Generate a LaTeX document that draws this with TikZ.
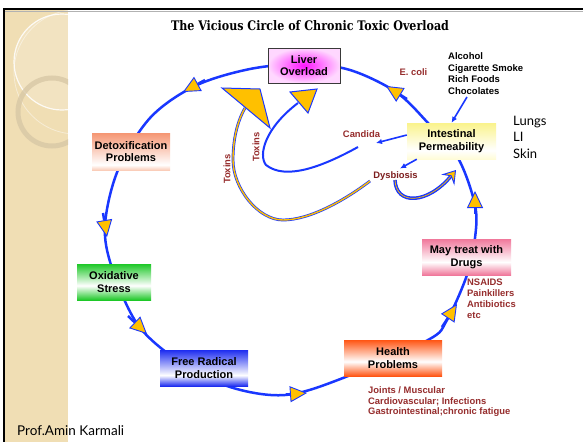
\documentclass[tikz,border=0pt]{standalone}
\usepackage{graphicx}
\usepackage{fontspec}
\setmainfont{Liberation Sans}
\newfontfamily\titlefont{DejaVu Serif}
\newfontfamily\gillfont{Lato}
\usetikzlibrary{arrows.meta}
\definecolor{lineblue}{RGB}{25,55,255}
\definecolor{gold}{RGB}{255,192,0}
\definecolor{lblred}{RGB}{150,45,45}
\definecolor{dysred}{RGB}{125,30,30}
\definecolor{stripbg}{RGB}{240,222,180}
\definecolor{ringc}{RGB}{216,200,166}
\definecolor{dxT}{RGB}{245,150,115}
\definecolor{dxB}{RGB}{250,205,185}
\definecolor{grC}{RGB}{30,200,40}
\definecolor{blC}{RGB}{30,45,240}
\definecolor{hpC}{RGB}{255,85,20}
\definecolor{mtC}{RGB}{240,120,155}
\definecolor{ipT}{RGB}{250,243,140}
\definecolor{ipB}{RGB}{255,252,215}
\definecolor{lvC}{RGB}{255,20,255}
\definecolor{lvO}{RGB}{255,215,255}
\pgfdeclareverticalshading{detoxsh}{100bp}{color(0bp)=(dxB); color(25bp)=(dxB); color(32bp)=(white); color(75bp)=(dxT); color(100bp)=(dxT)}
\pgfdeclareverticalshading{oxsh}{100bp}{color(0bp)=(grC); color(25bp)=(grC); color(45bp)=(white); color(75bp)=(grC); color(100bp)=(grC)}
\pgfdeclareverticalshading{frsh}{100bp}{color(0bp)=(blC); color(25bp)=(blC); color(40bp)=(white); color(75bp)=(blC); color(100bp)=(blC)}
\pgfdeclareverticalshading{hpsh}{100bp}{color(0bp)=(hpC); color(25bp)=(hpC); color(45bp)=(white); color(75bp)=(hpC); color(100bp)=(hpC)}
\pgfdeclareverticalshading{mtsh}{100bp}{color(0bp)=(mtC); color(25bp)=(mtC); color(43bp)=(white); color(75bp)=(mtC); color(100bp)=(mtC)}
\pgfdeclareverticalshading{ipsh}{100bp}{color(0bp)=(ipB); color(25bp)=(ipB); color(37bp)=(white); color(75bp)=(ipT); color(100bp)=(ipT)}
\tikzset{
  stepbox/.style={shade, inner sep=0pt, align=center, text=black,
    minimum height=36pt, font=\fontsize{11}{12.5}\selectfont\bfseries},
  lbl/.style={inner sep=0pt, text=lblred, font=\fontsize{9.4}{11}\selectfont\bfseries},
  blk/.style={inner sep=0pt, text=black, font=\fontsize{9.5}{11.6}\selectfont\bfseries},
  gill/.style={inner sep=0pt, text=black, font=\gillfont\fontsize{13}{16.5}\selectfont},
  loop/.style={draw=lineblue, line width=2.5pt},
  circarrow/.style={draw=lineblue, line width=2.5pt,
    -{Triangle[length=17pt,width=16pt,fill=gold,line width=0.9pt]}},
  thinarr/.style={draw=lineblue, line width=1.6pt, -{Latex[length=6pt,width=5.5pt]}},
  single/.style={draw=lineblue, line width=2pt},
  dbl/.style={draw=lineblue, line width=0.7pt, double=gold, double distance=1.4pt},
  headstyle/.style={draw=lineblue, fill=gold, line width=1pt, line join=miter},
  curlstyle/.style={draw=lineblue, line width=1.4pt, double=gold, double distance=0.7pt,
    -{Stealth[length=13pt,width=17pt,inset=5pt,fill=gold,line width=0.9pt]}}
}
\begin{document}
\begin{tikzpicture}[x=1pt,y=-1pt]
\useasboundingbox (0,0) rectangle (583,442);
\fill[white] (0,0) rectangle (583,442);
% left decorative strip
\fill[stripbg] (5,10) rectangle (68,442);
\begin{scope}
  \clip (5,10) rectangle (68,442);
  \fill[white, opacity=0.18] (62,62) circle[radius=48pt];
  \draw[white, opacity=0.85, line width=1.2pt] (62,62) circle[radius=48pt];
  \draw[white, opacity=0.45, line width=0.8pt] (76,72) circle[radius=62pt];
  \draw[ringc, opacity=0.8, line width=5pt] (52,112) circle[radius=34pt];
\end{scope}
% frame
\draw[black, line width=2.2pt] (3,9.2) -- (583,9.2);
\draw[gray!60, line width=0.8pt] (5,11.2) -- (583,11.2);
\draw[black, line width=2pt] (4.3,8.2) -- (4.3,442);
% title
\node[anchor=base, inner sep=0pt] (title) at (310,30)
  {\resizebox{278pt}{10pt}{\titlefont\bfseries The Vicious Circle of Chronic Toxic Overload}};
% main loop
\draw[loop] plot[smooth cycle, tension=0.55] coordinates {
  (304,64) (250,69) (195,86) (150,118) (118,170) (105,225) (112,268)
  (138,325) (180,362) (230,387) (285,395) (343,378) (428,340) (447,320)
  (467,275) (475,238) (475,205) (458,158) (428,123) (396,92) (350,70)};
% arrowheads on loop
\coordinate (a1s) at (205,80);  \coordinate (a1t) at (183,92);
\coordinate (a2s) at (103,213); \coordinate (a2t) at (107,237);
\coordinate (a3s) at (128,316); \coordinate (a3t) at (147,334);
\coordinate (a4s) at (286,394.5); \coordinate (a4t) at (307,393);
\coordinate (a5s) at (442,327); \coordinate (a5t) at (457,304);
\coordinate (a6s) at (475,214); \coordinate (a6t) at (475,191);
\coordinate (a7s) at (407,99);  \coordinate (a7t) at (386,86);
\foreach \i in {1,...,7} { \draw[circarrow] (a\i s) -- (a\i t); }
% boxes
\node[stepbox, minimum width=72pt, minimum height=35pt, inner color=lvC, outer color=lvO,
      draw=gray!45!black, line width=0.9pt] (liver) at (304,65.5) {Liver\\Overload};
\node[stepbox, minimum width=78pt, minimum height=37pt, shading=detoxsh] (detox) at (131,151.5) {Detoxification\\Problems};
\node[stepbox, minimum width=74pt, shading=oxsh] (oxid) at (114,282) {Oxidative\\Stress};
\node[stepbox, minimum width=88pt, shading=frsh] (free) at (204,368) {Free Radical\\Production};
\node[stepbox, minimum width=98pt, shading=hpsh] (health) at (393,358) {Health\\Problems};
\node[stepbox, minimum width=89pt, shading=mtsh] (drugs) at (466.5,257) {May treat with\\Drugs};
\node[stepbox, minimum width=89pt, shading=ipsh] (intes) at (451.5,141) {Intestinal\\Permeability};
% labels
\node[lbl, anchor=base] (ecoli) at (413.5,75) {E. coli};
\node[blk, anchor=north west, align=left] (foods) at (448,52.5) {Alcohol\\Cigarette Smoke\\Rich Foods\\Chocolates};
\node[gill, anchor=north west, align=left] (organs) at (513,115.7) {Lungs\\LI\\Skin};
\node[lbl, anchor=base] (candida) at (361.5,137) {Candida};
\node[lbl, anchor=base, text=dysred] (dysb) at (395.5,178) {Dysbiosis};
\node[lbl, rotate=90] (tox1) at (256,147) {Toxins};
\node[lbl, rotate=90] (tox2) at (227,169) {Toxins};
\node[lbl, anchor=north west, align=left] (drugl) at (467,278.3) {NSAIDS\\Painkillers\\Antibiotics\\etc};
\node[lbl, anchor=north west, align=left, font=\fontsize{9.4}{10.7}\selectfont\bfseries] (healthl) at (368,386.3)
  {Joints / Muscular\\Cardiovascular; Infections\\Gastrointestinal;chronic fatigue};
\node[inner sep=0pt, anchor=base west, font=\gillfont\fontsize{13.5}{15}\selectfont] (author) at (17,435) {Prof.Amin Karmali};
% connectors
\coordinate (candtip) at (376,143);
\coordinate (dystip) at (400,168.5);
\coordinate (foodstart) at (467,97);
\draw[thinarr] ([yshift=6pt]intes.west) -- (candtip);
\draw[thinarr] ([xshift=10pt]intes.south west) -- (dystip);
\draw[thinarr] (foodstart) -- (intes.north);
% toxins paths
\coordinate (tox2s) at (370,181);
\coordinate (tox2e) at (245,108);
\draw[dbl] (tox2s) .. controls (345,200) and (310,220) .. (283,220)
  .. controls (258,220) and (233,188) .. (233,160)
  .. controls (233,140) and (237,122) .. (tox2e);
\draw[headstyle] (222,88) -- (260,89) -- (270,128) -- cycle;
\coordinate (tox1s) at (358,147);
\coordinate (tox1e) at (298,103);
\draw[single] (tox1s) .. controls (320,168) and (285,180) .. (266,165)
  .. controls (258,155) and (265,128) .. (tox1e);
\draw[headstyle] (290,92) -- (317,89) -- (308,113) -- cycle;
% dysbiosis curl
\coordinate (curls) at (395,180);
\coordinate (curle) at (456,170);
\draw[curlstyle] (curls) .. controls (396,206) and (428,204) .. (curle);
\end{tikzpicture}
\end{document}
